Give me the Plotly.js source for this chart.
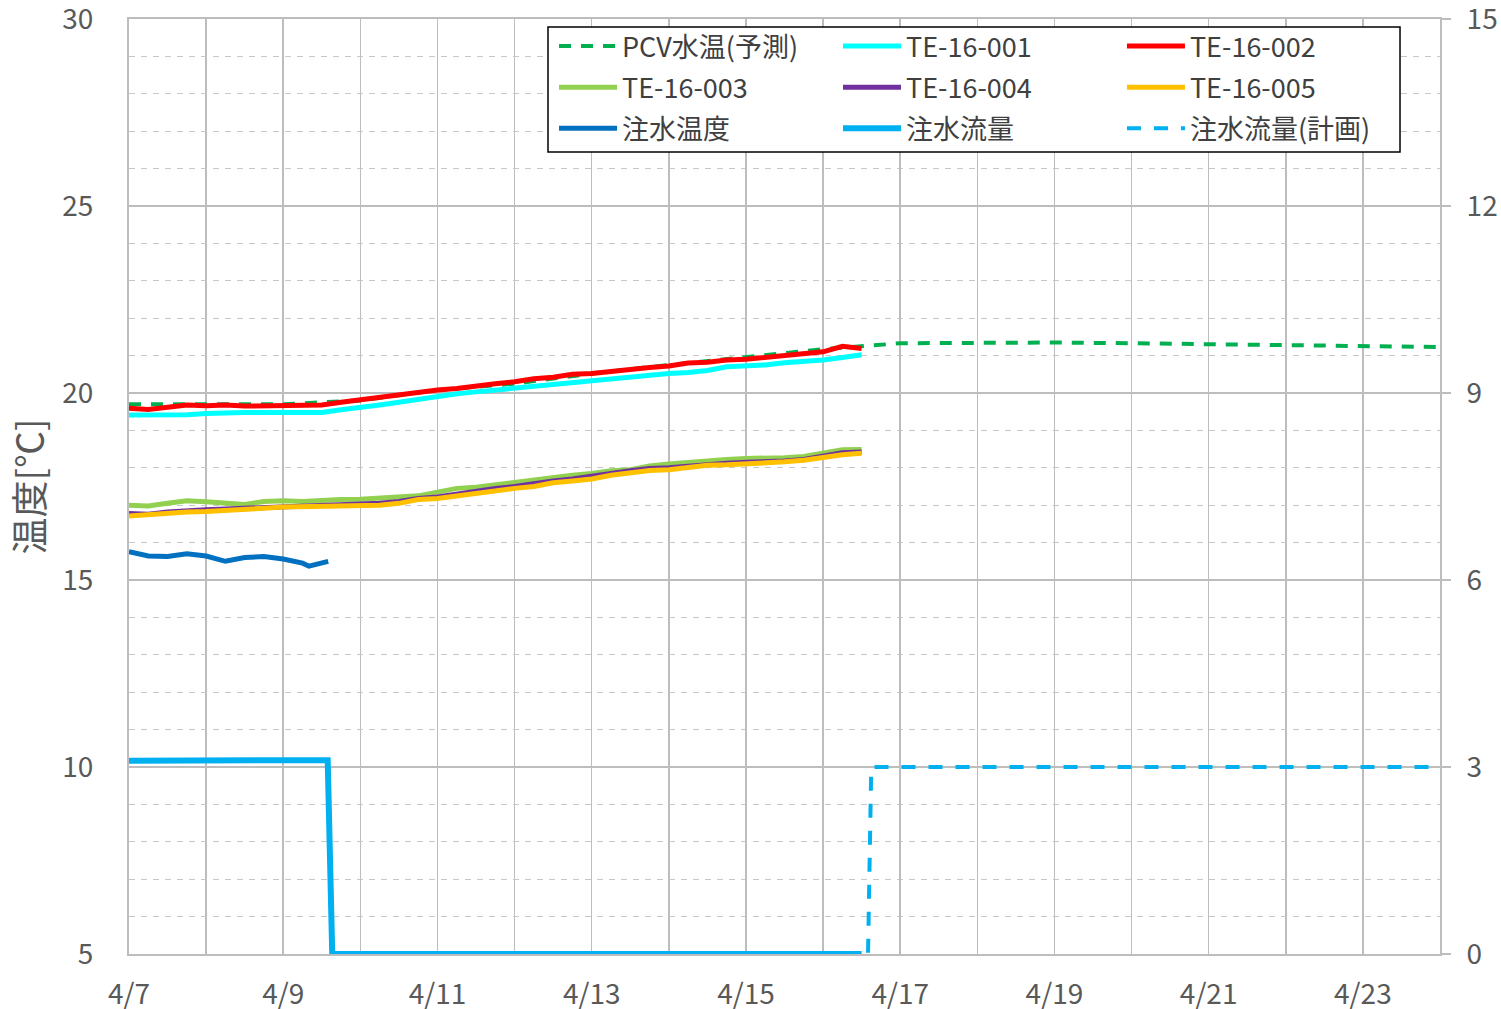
<!DOCTYPE html>
<html>
<head>
<meta charset="utf-8">
<script src="https://cdn.plot.ly/plotly-3.0.1.min.js"></script>
<style>html,body{margin:0;padding:0;background:#fff;}#chart{width:1501px;height:1009px;}</style>
</head>
<body>
<div id="chart"></div>
<script>
// ---- data ----
const teTimes = [
 '2020-04-07 00:00','2020-04-07 06:00','2020-04-07 12:00','2020-04-07 18:00',
 '2020-04-08 00:00','2020-04-08 06:00','2020-04-08 12:00','2020-04-08 18:00',
 '2020-04-09 00:00','2020-04-09 06:00','2020-04-09 12:00','2020-04-09 18:00',
 '2020-04-10 00:00','2020-04-10 06:00','2020-04-10 12:00','2020-04-10 18:00',
 '2020-04-11 00:00','2020-04-11 06:00','2020-04-11 12:00','2020-04-11 18:00',
 '2020-04-12 00:00','2020-04-12 06:00','2020-04-12 12:00','2020-04-12 18:00',
 '2020-04-13 00:00','2020-04-13 06:00','2020-04-13 12:00','2020-04-13 18:00',
 '2020-04-14 00:00','2020-04-14 06:00','2020-04-14 12:00','2020-04-14 18:00',
 '2020-04-15 00:00','2020-04-15 06:00','2020-04-15 12:00','2020-04-15 18:00',
 '2020-04-16 00:00','2020-04-16 06:00','2020-04-16 12:00'
];
const te001 = [19.41,19.41,19.42,19.42,19.45,19.48,19.48,19.48,19.48,19.48,19.48,19.55,19.60,19.68,19.75,19.83,19.92,19.98,20.03,20.08,20.12,20.17,20.25,20.30,20.32,20.38,20.43,20.50,20.52,20.55,20.60,20.70,20.72,20.75,20.81,20.83,20.88,20.95,21.02];
const te002 = [19.59,19.56,19.62,19.68,19.66,19.68,19.65,19.65,19.65,19.65,19.68,19.75,19.82,19.86,19.95,20.00,20.08,20.12,20.20,20.25,20.30,20.38,20.42,20.50,20.52,20.58,20.62,20.68,20.72,20.80,20.82,20.88,20.90,20.95,21.02,21.08,21.10,21.25,21.19];
const te003 = [17.00,16.98,17.05,17.12,17.09,17.05,17.02,17.10,17.12,17.10,17.14,17.15,17.16,17.20,17.21,17.25,17.35,17.45,17.48,17.55,17.60,17.68,17.75,17.80,17.85,17.92,17.95,18.05,18.10,18.15,18.20,18.22,18.25,18.25,18.27,18.30,18.38,18.48,18.49];
const te004 = [16.78,16.76,16.82,16.86,16.88,16.90,16.92,16.95,16.96,16.98,17.00,17.00,17.02,17.05,17.10,17.18,17.22,17.30,17.38,17.45,17.50,17.58,17.65,17.70,17.76,17.85,17.92,17.98,18.00,18.05,18.10,18.12,18.15,18.15,18.18,18.22,18.30,18.40,18.42];
const te005 = [16.71,16.75,16.78,16.82,16.83,16.85,16.88,16.92,16.95,16.96,16.96,16.97,16.98,17.00,17.05,17.15,17.18,17.25,17.32,17.40,17.45,17.50,17.60,17.65,17.70,17.80,17.88,17.93,17.95,18.00,18.07,18.08,18.10,18.12,18.16,18.20,18.28,18.35,18.39];

const pcvTimes = ['2020-04-07','2020-04-08','2020-04-09','2020-04-10','2020-04-11','2020-04-12','2020-04-13','2020-04-14','2020-04-15','2020-04-16','2020-04-17','2020-04-18','2020-04-19','2020-04-20','2020-04-21','2020-04-22','2020-04-23','2020-04-24'];
const pcvPred  = [19.70,19.70,19.70,19.80,20.08,20.25,20.52,20.75,20.97,21.17,21.33,21.35,21.35,21.33,21.30,21.28,21.25,21.23];

const injTimes = ['2020-04-07 00:00','2020-04-07 06:00','2020-04-07 12:00','2020-04-07 18:00','2020-04-08 00:00','2020-04-08 06:00','2020-04-08 12:00','2020-04-08 18:00','2020-04-09 00:00','2020-04-09 06:00','2020-04-09 08:00','2020-04-09 12:00','2020-04-09 14:00'];
const injTemp  = [15.76,15.64,15.63,15.70,15.64,15.50,15.60,15.63,15.56,15.45,15.37,15.46,15.50];

const flowTimes = ['2020-04-07 00:00','2020-04-07 12:00','2020-04-08 00:00','2020-04-08 12:00','2020-04-09 00:00','2020-04-09 13:50','2020-04-09 15:15','2020-04-16 12:00'];
const flowVals  = [3.10,3.10,3.12,3.11,3.11,3.11,0,0];

const planTimes = ['2020-04-16 06:00','2020-04-16 14:00','2020-04-16 15:00','2020-04-24 00:00'];
const planVals  = [0,0,3,3];

const seriesNames = ['PCV水温(予測)','TE-16-001','TE-16-002','TE-16-003','TE-16-004','TE-16-005','注水温度','注水流量','注水流量(計画)'];

// ---- traces ----
const FONT = '"Noto Sans CJK JP", "Noto Sans", sans-serif';
const legendCol = ['legend','legend2','legend3','legend','legend2','legend3','legend','legend2','legend3'];
const traces = [
  {x:pcvTimes, y:pcvPred, name:seriesNames[0], mode:'lines', line:{color:'#00B050', width:4, dash:'12px,10px'}},
  {x:teTimes, y:te001, name:seriesNames[1], mode:'lines', line:{color:'#00FFFF', width:5}},
  {x:teTimes, y:te002, name:seriesNames[2], mode:'lines', line:{color:'#FF0000', width:5}},
  {x:teTimes, y:te003, name:seriesNames[3], mode:'lines', line:{color:'#92D050', width:5}},
  {x:teTimes, y:te004, name:seriesNames[4], mode:'lines', line:{color:'#7030A0', width:5}},
  {x:teTimes, y:te005, name:seriesNames[5], mode:'lines', line:{color:'#FFC000', width:5}},
  {x:injTimes, y:injTemp, name:seriesNames[6], mode:'lines', line:{color:'#0070C0', width:5}},
  {x:flowTimes, y:flowVals, name:seriesNames[7], mode:'lines', yaxis:'y2', cliponaxis:false, line:{color:'#00B0F0', width:6}},
  {x:planTimes, y:planVals, name:seriesNames[8], mode:'lines', yaxis:'y2', cliponaxis:false, line:{color:'#00B0F0', width:4, dash:'14px,13px'}}
];
traces.forEach((t, i) => { t.legend = legendCol[i]; t.legendgroup = 'g' + i; });

const GRID = '#BDBDBD';
const legendBase = {
  orientation:'v', y:0.9968, xanchor:'left', yanchor:'top',
  bgcolor:'rgba(0,0,0,0)', borderwidth:0,
  itemwidth:58, tracegroupgap:3,
  font:{size:27, color:'#404040', family:FONT}
};
const layout = {
  width:1501, height:1009,
  margin:{l:129, r:61, t:19, b:55},
  paper_bgcolor:'#ffffff', plot_bgcolor:'#ffffff',
  font:{family:FONT, color:'#595959', size:28},
  showlegend:true,
  hovermode:false,
  xaxis:{
    type:'date', range:['2020-04-07','2020-04-24'],
    tick0:'2020-04-07', dtick:2*86400000, tickformat:'%-m/%-d',
    showgrid:true, gridcolor:GRID, gridwidth:1.5,
    minor:{dtick:86400000, showgrid:true, gridcolor:GRID, gridwidth:1.5},
    showline:true, linecolor:GRID, linewidth:2, mirror:true,
    ticks:'', ticklabelstandoff:14, ticklabeloverflow:'allow',
    tickfont:{size:28, color:'#595959', family:FONT},
    zeroline:false
  },
  yaxis:{
    range:[5,30], dtick:5, tick0:5,
    showgrid:true, gridcolor:GRID, gridwidth:1.5,
    minor:{dtick:1, showgrid:true, gridcolor:'#C8C8C8', gridwidth:1.3, griddash:'6px,6px'},
    showline:true, linecolor:GRID, linewidth:2,
    ticks:'', ticklabelstandoff:28, ticklabeloverflow:'allow',
    tickfont:{size:28, color:'#595959', family:FONT},
    title:{text:'温度[℃]', font:{size:37, color:'#595959', family:FONT}, standoff:6},
    zeroline:false
  },
  yaxis2:{
    range:[0,15], dtick:3, tick0:0, overlaying:'y', side:'right',
    showgrid:false, showline:true, linecolor:GRID, linewidth:2,
    ticks:'outside', ticklen:9, tickcolor:GRID, tickwidth:2, ticklabelstandoff:10, ticklabeloverflow:'allow',
    tickfont:{size:28, color:'#595959', family:FONT},
    zeroline:false
  },
  legend:  Object.assign({}, legendBase, {x:0.3242}),
  legend2: Object.assign({}, legendBase, {x:0.5408}),
  legend3: Object.assign({}, legendBase, {x:0.7574}),
  shapes:[{
    type:'rect', xref:'paper', yref:'paper', layer:'above',
    x0:0.3196, x1:0.9695, y0:0.85775, y1:0.99144,
    fillcolor:'#ffffff', line:{color:'#000000', width:1.5}
  }]
};

Plotly.newPlot('chart', traces, layout, {staticPlot:true, displayModeBar:false});
</script>
</body>
</html>
